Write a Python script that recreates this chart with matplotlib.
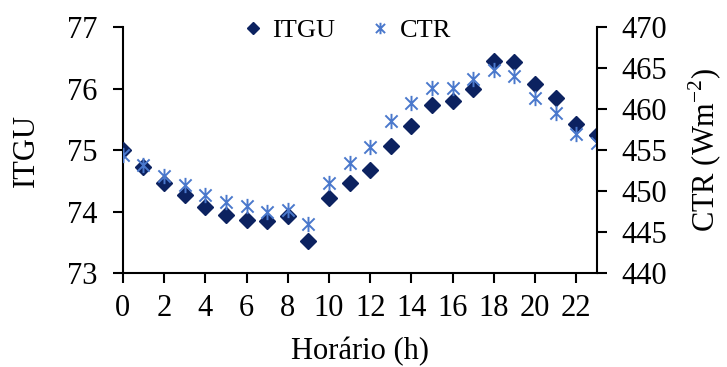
import matplotlib.pyplot as plt
from matplotlib.path import Path

plt.rcParams['font.family'] = ['Liberation Serif', 'DejaVu Serif']
plt.rcParams['mathtext.fontset'] = 'custom'
plt.rcParams['mathtext.rm'] = 'Liberation Serif'

# dados
horas = list(range(0, 24))
itgu = [75.00, 74.73, 74.47, 74.27, 74.07, 73.95, 73.87, 73.84, 73.92, 73.52,
        74.22, 74.47, 74.67, 75.07, 75.40, 75.73, 75.80, 75.99, 76.45, 76.44,
        76.07, 75.84, 75.43, 75.24]
ctr = [454.4, 453.2, 451.9, 450.7, 449.5, 448.7, 448.2, 447.5, 447.7, 446.0,
       451.0, 453.4, 455.4, 458.5, 460.8, 462.6, 462.6, 463.7, 464.8, 464.1,
       461.4, 459.5, 457.0, 455.9]
xticks = list(range(0, 23, 2))

# asterisco estilo excel: x com traco vertical
ast = Path([(0, -1), (0, 1), (-0.8, -0.8), (0.8, 0.8), (-0.8, 0.8), (0.8, -0.8)],
           [Path.MOVETO, Path.LINETO, Path.MOVETO, Path.LINETO, Path.MOVETO, Path.LINETO])

fig = plt.figure(figsize=(7.27, 3.67), dpi=100)
ax = fig.add_axes([0.169, 0.256, 0.652, 0.670])
ax2 = ax.twinx()

p1, = ax.plot(horas, itgu, linestyle='none', marker='D', markersize=8.5,
              color='#0c2260', label='ITGU', zorder=3)
p2, = ax2.plot(horas, ctr, linestyle='none', marker=ast, markersize=11,
               markeredgewidth=1.4, color='#4a78cc', label='CTR', zorder=2)

ax.set_xlim(0, 23)
ax.set_ylim(73, 77)
ax2.set_ylim(440, 470)
ax.set_xticks(xticks)
ax.set_yticks([73, 74, 75, 76, 77])
ax2.set_yticks(list(range(440, 471, 5)))

for a in (ax, ax2):
    a.spines['top'].set_visible(False)
    for s in a.spines.values():
        s.set_linewidth(1.5)
    a.tick_params(labelsize=22, width=1.5, length=7, direction='out', pad=11)
ax.tick_params(axis='x', pad=8)
ax.spines['right'].set_visible(False)
ax2.spines['left'].set_visible(False)
ax2.spines['bottom'].set_visible(False)

ax.set_xlabel('Horário (h)', fontsize=22, labelpad=10)
ax.set_ylabel('ITGU', fontsize=22, labelpad=19)
ax2.set_ylabel('CTR (Wm$^{\\mathregular{-2}}$)', fontsize=22, labelpad=14)

fig.legend(handles=[p1, p2], loc='center', bbox_to_anchor=(0.477, 0.918),
           ncol=2, frameon=False, fontsize=19, handlelength=0.8,
           handletextpad=0.35, columnspacing=1.3, markerscale=0.75)

fig.savefig('out.png', dpi=100)
